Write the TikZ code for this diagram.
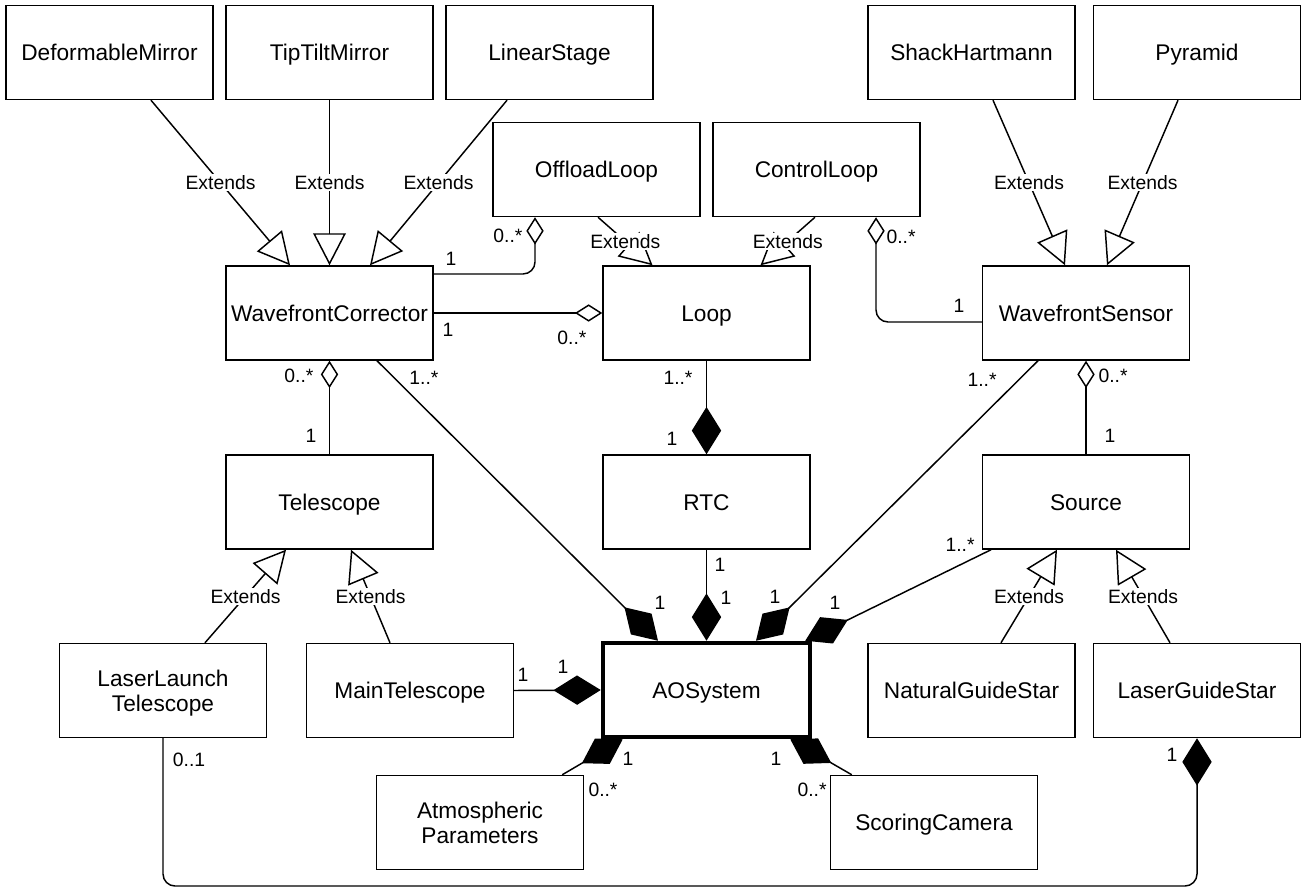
\documentclass[tikz,border=0pt]{standalone}
\usepackage{fontspec}
\setmainfont{Liberation Sans}
\usetikzlibrary{arrows.meta, calc}

\begin{document}
\begin{tikzpicture}
  [
    x=0.75pt, y=-0.75pt,
    Class/.style={rectangle, draw=black, line width=1.1pt, minimum width=155.25pt, minimum height=70.5pt, inner sep=0pt, align=center, text height=15.8pt, text depth=3.6pt, font=\fontsize{17}{19}\selectfont},
    TwoLine/.style={Class, text height=35.3pt},
    Main/.style={Class, line width=3.4pt},
    Lbl/.style={fill=white, inner sep=1pt, font=\fontsize{14.5}{17}\selectfont},
    Mult/.style={inner sep=0pt, font=\fontsize{14.5}{17}\selectfont},
    Ext/.style={draw, line width=1.1pt, -{Triangle[open, length=24pt, width=24.5pt]}},
    Agg/.style={draw, line width=1.1pt, -{Diamond[open, length=20.5pt, width=13pt]}},
    Comp/.style={draw, line width=1.1pt, -{Diamond[length=35.5pt, width=22pt]}}
  ]
  \useasboundingbox (0, 0) rectangle (1305, 891);

  % Classes
  \node[Class] (DM) at (109.5, 52.5) {DeformableMirror};
  \node[Class] (TTM) at (329.5, 52.5) {TipTiltMirror};
  \node[Class] (LS) at (549.5, 52.5) {LinearStage};
  \node[Class] (SH) at (971.5, 52.5) {ShackHartmann};
  \node[Class] (PY) at (1197, 52.5) {Pyramid};
  \node[Class] (OL) at (596.5, 169.5) {OffloadLoop};
  \node[Class] (CL) at (816.5, 169.5) {ControlLoop};
  \node[Class] (WC) at (329.5, 313) {WavefrontCorrector};
  \node[Class] (LP) at (706.5, 313) {Loop};
  \node[Class] (WS) at (1086, 313) {WavefrontSensor};
  \node[Class] (TEL) at (329.5, 502) {Telescope};
  \node[Class] (RTC) at (706.5, 502) {RTC};
  \node[Class] (SRC) at (1086, 502) {Source};
  \node[TwoLine] (LLT) at (163, 690.5) {LaserLaunch\\Telescope};
  \node[Class] (MT) at (410, 690.5) {MainTelescope};
  \node[Main] (AO) at (706.5, 690) {AOSystem};
  \node[Class] (NGS) at (971.5, 690.5) {NaturalGuideStar};
  \node[Class] (LGS) at (1197, 690.5) {LaserGuideStar};
  \node[TwoLine] (AP) at (480, 822.5) {Atmospheric\\Parameters};
  \node[Class] (SC) at (934, 822.5) {ScoringCamera};
  \coordinate (Bottom) at (680, 886);

  % Extends
  \path[Ext] ($(DM.south)+(41.5,0)$) -- node[Lbl] (x1) {Extends} ($(WC.north)+(-39.5,0)$);
  \path[Ext] (TTM.south) -- node[Lbl] (x2) {Extends} (WC.north);
  \path[Ext] ($(LS.south)+(-42.5,0)$) -- node[Lbl] (x3) {Extends} ($(WC.north)+(40.5,0)$);
  \path[Ext] ($(SH.south)+(21.5,0)$) -- node[Lbl] (x4) {Extends} ($(WS.north)+(-21,0)$);
  \path[Ext] ($(PY.south)+(-19,0)$) -- node[Lbl] (x5) {Extends} ($(WS.north)+(21,0)$);
  \path[Ext] ($(OL.south)+(1.5,0)$) -- node[Lbl] (x6) {Extends} ($(LP.north)+(-54,0)$);
  \path[Ext] ($(CL.south)+(-1.5,0)$) -- node[Lbl] (x7) {Extends} ($(LP.north)+(54,0)$);
  \path[Ext] ($(LLT.north)+(42,0)$) -- node[Lbl] (x8) {Extends} ($(TEL.south)+(-43.5,0)$);
  \path[Ext] ($(MT.north)+(-20,0)$) -- node[Lbl] (x9) {Extends} ($(TEL.south)+(21.5,0)$);
  \path[Ext] ($(NGS.north)+(29.5,0)$) -- node[Lbl] (x10) {Extends} ($(SRC.south)+(-29,0)$);
  \path[Ext] ($(LGS.north)+(-27,0)$) -- node[Lbl] (x11) {Extends} ($(SRC.south)+(30,0)$);

  % Aggregations
  \path[Agg, rounded corners=9pt] ($(WC.east)+(0,-39)$) -| ($(OL.south)+(-61.5,0)$);
  \path[Agg] (WC.east) -- (LP.west);
  \path[Agg, rounded corners=9pt] ($(WS.west)+(0,9)$) -| ($(CL.south)+(59.5,0)$);
  \path[Agg] (TEL.north) -- (WC.south);
  \path[Agg] (SRC.north) -- (WS.south);

  % Compositions
  \path[Comp] (LP.south) -- (RTC.north);
  \path[Comp] (RTC.south) -- (AO.north);
  \path[Comp] ($(WC.south)+(47.5,0)$) -- ($(AO.north)+(-48.5,0)$);
  \path[Comp] ($(WS.south)+(-48,0)$) -- ($(AO.north)+(49.5,0)$);
  \path[Comp] ($(SRC.south)+(-95,0)$) -- ($(AO.north east)+(-7,0)$);
  \path[Comp] (MT.east) -- (AO.west);
  \path[Comp] ($(AP.north east)+(-22,0)$) -- ($(AO.south west)+(22,0)$);
  \path[Comp] ($(SC.north west)+(22,0)$) -- ($(AO.south east)+(-22,0)$);
  \path[Comp, rounded corners=9pt] (LLT.south) |- (Bottom) -| (LGS.south);

  % Multiplicities
  \node[Mult] (m1) at (451, 259) {1};
  \node[Mult] (m2) at (508, 236) {0..*};
  \node[Mult] (m3) at (448, 330) {1};
  \node[Mult] (m4) at (572, 338) {0..*};
  \node[Mult] (m5) at (901, 237) {0..*};
  \node[Mult] (m6) at (959, 306) {1};
  \node[Mult] (m7) at (299, 376) {0..*};
  \node[Mult] (m8) at (311, 436) {1};
  \node[Mult] (m9) at (424, 378) {1..*};
  \node[Mult] (m10) at (660, 603) {1};
  \node[Mult] (m11) at (678, 378) {1..*};
  \node[Mult] (m12) at (672, 439) {1};
  \node[Mult] (m13) at (720, 565) {1};
  \node[Mult] (m14) at (726, 598) {1};
  \node[Mult] (m15) at (982, 380) {1..*};
  \node[Mult] (m16) at (775, 597) {1};
  \node[Mult] (m17) at (1113, 376) {0..*};
  \node[Mult] (m18) at (1110, 436) {1};
  \node[Mult] (m19) at (960, 545) {1..*};
  \node[Mult] (m20) at (835, 603) {1};
  \node[Mult] (m21) at (523, 675) {1};
  \node[Mult] (m22) at (563, 667) {1};
  \node[Mult] (m23) at (628, 759) {1};
  \node[Mult] (m24) at (603, 790) {0..*};
  \node[Mult] (m25) at (776, 759) {1};
  \node[Mult] (m26) at (812, 790) {0..*};
  \node[Mult] (m27) at (189, 760) {0..1};
  \node[Mult] (m28) at (1172, 755) {1};

\end{tikzpicture}
\end{document}
